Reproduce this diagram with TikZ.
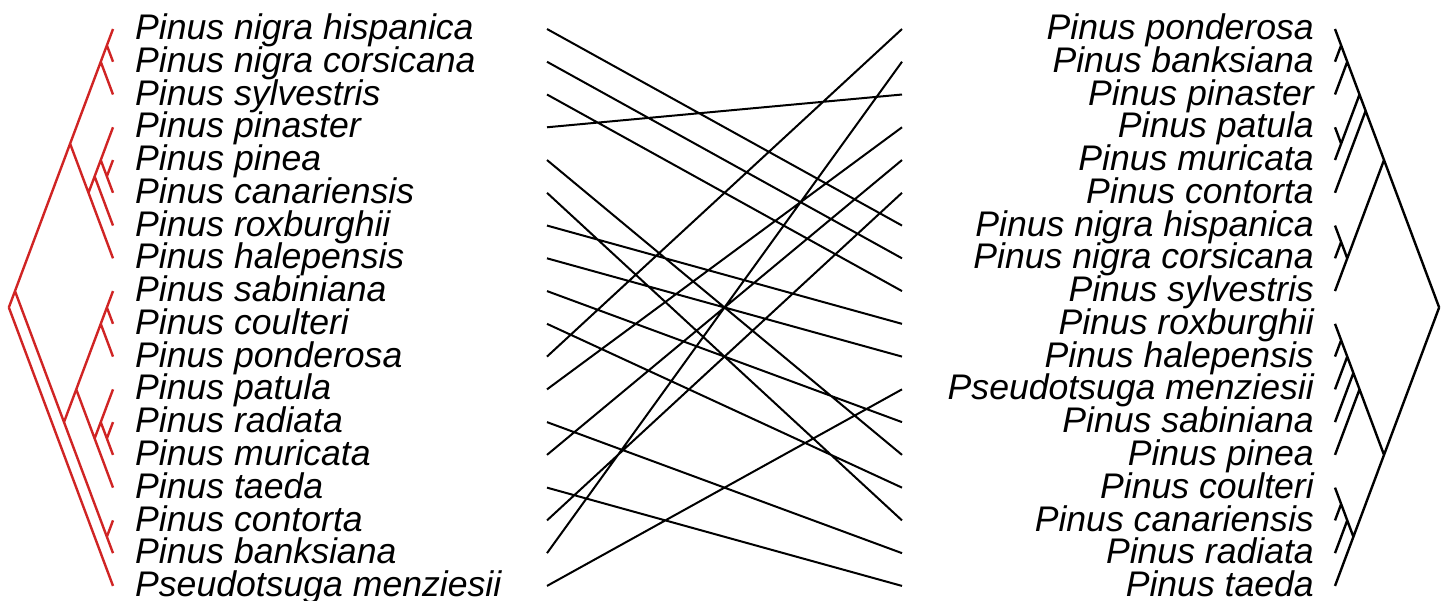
\documentclass[tikz,border=0pt]{standalone}
\usepackage{fontspec}
\setmainfont{Liberation Sans}
\definecolor{treered}{RGB}{208,36,36}
\newcommand{\lnode}[3]{\coordinate (#1) at ({113-0.374*(#3-#2)*16.38},{29+(#2+#3-2)*16.38});}
\newcommand{\rnode}[3]{\coordinate (#1) at ({1335+0.374*(#3-#2)*16.38},{29+(#2+#3-2)*16.38});}
\begin{document}
\begin{tikzpicture}[x=1pt,y=-1pt,
  lab/.style={inner sep=0pt,font=\fontsize{35.6}{40}\selectfont\itshape},
  ltree/.style={draw=treered,line width=2.4pt,line join=round},
  rtree/.style={draw=black,line width=2.4pt,line join=round},
  conn/.style={draw=black,line width=2pt}]
\useasboundingbox (0,0) rectangle (1445,601);
% tips and connector ends
\foreach \i in {1,...,18}{
  \lnode{L\i}{\i}{\i}
  \rnode{R\i}{\i}{\i}
  \coordinate (lc\i) at (547,{29+(\i-1)*32.76});
  \coordinate (rc\i) at (902,{29+(\i-1)*32.76});
}
% left labels
\foreach \t [count=\i] in {Pinus nigra hispanica,Pinus nigra corsicana,Pinus sylvestris,Pinus pinaster,Pinus pinea,Pinus canariensis,Pinus roxburghii,Pinus halepensis,Pinus sabiniana,Pinus coulteri,Pinus ponderosa,Pinus patula,Pinus radiata,Pinus muricata,Pinus taeda,Pinus contorta,Pinus banksiana,Pseudotsuga menziesii}
  \node[lab,anchor=base west] (tl\i) at (135,{29+(\i-1)*32.76+10.6}) {\t};
% right labels
\foreach \t [count=\i] in {Pinus ponderosa,Pinus banksiana,Pinus pinaster,Pinus patula,Pinus muricata,Pinus contorta,Pinus nigra hispanica,Pinus nigra corsicana,Pinus sylvestris,Pinus roxburghii,Pinus halepensis,Pseudotsuga menziesii,Pinus sabiniana,Pinus pinea,Pinus coulteri,Pinus canariensis,Pinus radiata,Pinus taeda}
  \node[lab,anchor=base east] (tr\i) at (1314,{29+(\i-1)*32.76+10.6}) {\t};
% left tree nodes
\lnode{lroot}{1}{18}
\lnode{l117}{1}{17}
\lnode{lab18}{1}{8}
\lnode{l13}{1}{3}
\lnode{l12}{1}{2}
\lnode{l48}{4}{8}
\lnode{l47}{4}{7}
\lnode{l46}{4}{6}
\lnode{l56}{5}{6}
\lnode{l917}{9}{17}
\lnode{l1617}{16}{17}
\lnode{l915}{9}{15}
\lnode{l911}{9}{11}
\lnode{l910}{9}{10}
\lnode{l1215}{12}{15}
\lnode{l1214}{12}{14}
\lnode{l1314}{13}{14}
\path[ltree]
  (lroot) -- (l117) (lroot) -- (L18)
  (l117) -- (lab18) (l117) -- (l917)
  (lab18) -- (l13) (lab18) -- (l48)
  (l13) -- (l12) (l13) -- (L3)
  (l12) -- (L1) (l12) -- (L2)
  (l48) -- (l47) (l48) -- (L8)
  (l47) -- (l46) (l47) -- (L7)
  (l46) -- (L4) (l46) -- (l56)
  (l56) -- (L5) (l56) -- (L6)
  (l917) -- (l915) (l917) -- (l1617)
  (l1617) -- (L16) (l1617) -- (L17)
  (l915) -- (l911) (l915) -- (l1215)
  (l911) -- (l910) (l911) -- (L11)
  (l910) -- (L9) (l910) -- (L10)
  (l1215) -- (l1214) (l1215) -- (L15)
  (l1214) -- (L12) (l1214) -- (l1314)
  (l1314) -- (L13) (l1314) -- (L14);
% right tree nodes
\rnode{rroot}{1}{18}
\rnode{r19}{1}{9}
\rnode{r16}{1}{6}
\rnode{r15}{1}{5}
\rnode{r13}{1}{3}
\rnode{r12}{1}{2}
\rnode{r45}{4}{5}
\rnode{r79}{7}{9}
\rnode{r78}{7}{8}
\rnode{r1018}{10}{18}
\rnode{r1014}{10}{14}
\rnode{r1013}{10}{13}
\rnode{r1012}{10}{12}
\rnode{r1011}{10}{11}
\rnode{r1518}{15}{18}
\rnode{r1517}{15}{17}
\rnode{r1516}{15}{16}
\path[rtree]
  (rroot) -- (r19) (rroot) -- (r1018)
  (r19) -- (r16) (r19) -- (r79)
  (r16) -- (r15) (r16) -- (R6)
  (r15) -- (r13) (r15) -- (r45)
  (r13) -- (r12) (r13) -- (R3)
  (r12) -- (R1) (r12) -- (R2)
  (r45) -- (R4) (r45) -- (R5)
  (r79) -- (r78) (r79) -- (R9)
  (r78) -- (R7) (r78) -- (R8)
  (r1018) -- (r1014) (r1018) -- (r1518)
  (r1014) -- (r1013) (r1014) -- (R14)
  (r1013) -- (r1012) (r1013) -- (R13)
  (r1012) -- (r1011) (r1012) -- (R12)
  (r1011) -- (R10) (r1011) -- (R11)
  (r1518) -- (r1517) (r1518) -- (R18)
  (r1517) -- (r1516) (r1517) -- (R17)
  (r1516) -- (R15) (r1516) -- (R16);
% connectors
\path[conn]
  (lc1) -- (rc7) (lc2) -- (rc8) (lc3) -- (rc9) (lc4) -- (rc3)
  (lc5) -- (rc14) (lc6) -- (rc16) (lc7) -- (rc10) (lc8) -- (rc11)
  (lc9) -- (rc13) (lc10) -- (rc15) (lc11) -- (rc1) (lc12) -- (rc4)
  (lc13) -- (rc17) (lc14) -- (rc5) (lc15) -- (rc18) (lc16) -- (rc6)
  (lc17) -- (rc2) (lc18) -- (rc12);
\end{tikzpicture}
\end{document}
